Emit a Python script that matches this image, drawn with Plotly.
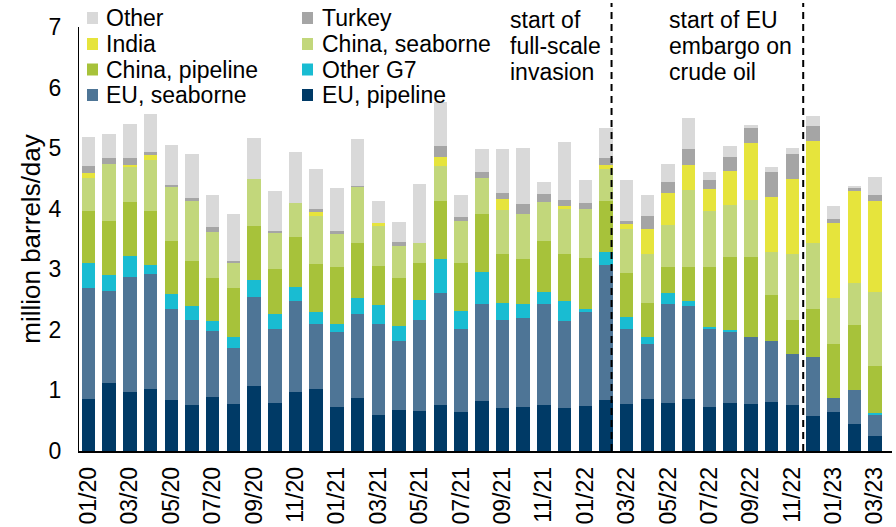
import plotly.graph_objects as go

months = ["01/20","02/20","03/20","04/20","05/20","06/20","07/20","08/20","09/20","10/20","11/20","12/20",
          "01/21","02/21","03/21","04/21","05/21","06/21","07/21","08/21","09/21","10/21","11/21","12/21",
          "01/22","02/22","03/22","04/22","05/22","06/22","07/22","08/22","09/22","10/22","11/22","12/22",
          "01/23","02/23","03/23"]

eu_pipeline = [0.86,1.12,0.98,1.02,0.84,0.76,0.89,0.77,1.07,0.80,0.97,1.02,
               0.73,0.87,0.59,0.67,0.66,0.76,0.65,0.83,0.71,0.73,0.76,0.71,
               0.74,0.84,0.77,0.86,0.80,0.86,0.73,0.80,0.77,0.81,0.76,0.58,
               0.65,0.45,0.24]
eu_seaborne = [1.83,1.52,1.90,1.91,1.50,1.40,1.09,0.93,1.48,1.21,1.51,1.07,
               1.23,1.40,1.51,1.14,1.51,1.85,1.36,1.60,1.46,1.47,1.66,1.44,
               1.56,2.23,1.24,0.90,1.62,1.53,1.30,1.16,1.12,1.01,0.84,0.97,
               0.23,0.55,0.37]
other_g7 = [0.41,0.26,0.34,0.14,0.26,0.24,0.16,0.18,0.28,0.26,0.22,0.21,
            0.14,0.26,0.31,0.25,0.33,0.56,0.30,0.52,0.28,0.22,0.21,0.32,
            0.05,0.22,0.20,0.13,0.19,0.08,0.02,0.04,0.00,0.00,0.00,0.00,
            0.00,0.00,0.02]
china_pipeline = [0.87,0.89,0.89,0.89,0.87,0.73,0.71,0.81,0.88,0.73,0.83,0.79,
                  0.94,0.90,0.65,0.80,0.61,0.95,0.80,0.96,0.81,0.75,0.83,0.78,
                  0.83,0.83,0.73,0.56,0.43,0.56,0.98,1.20,1.31,0.75,0.56,0.79,
                  0.89,1.08,0.78]
china_seaborne = [0.54,0.95,0.58,0.84,0.89,1.01,0.76,0.41,0.78,0.61,0.56,0.79,
                  0.54,0.93,0.65,0.53,0.33,0.58,0.68,0.60,0.72,0.75,0.65,0.75,
                  0.82,0.53,0.73,0.80,0.69,1.28,0.93,0.86,0.94,0.71,1.10,1.10,
                  0.75,0.70,1.21]
india = [0.08,0.00,0.04,0.08,0.00,0.00,0.00,0.00,0.00,0.00,0.00,0.06,
         0.00,0.00,0.06,0.00,0.00,0.16,0.00,0.00,0.18,0.00,0.00,0.04,
         0.00,0.07,0.08,0.41,0.53,0.41,0.37,0.56,0.94,0.91,1.23,1.67,
         1.25,1.51,1.51]
turkey = [0.12,0.09,0.10,0.05,0.03,0.03,0.08,0.04,0.00,0.03,0.00,0.06,
          0.05,0.02,0.00,0.06,0.00,0.18,0.07,0.09,0.10,0.15,0.13,0.11,
          0.09,0.11,0.05,0.22,0.18,0.27,0.14,0.24,0.26,0.42,0.41,0.25,
          0.06,0.05,0.10]
other = [0.48,0.40,0.57,0.64,0.67,0.73,0.53,0.78,0.67,0.65,0.85,0.66,
         0.71,0.77,0.36,0.33,0.97,0.72,0.37,0.39,0.73,0.93,0.20,0.95,
         0.38,0.51,0.67,0.35,0.30,0.50,0.14,0.18,0.05,0.08,0.11,0.17,
         0.22,0.04,0.30]

series_names = ["EU, pipeline","EU, seaborne","Other G7","China, pipeline",
                "China, seaborne","India","Turkey","Other"]
series_values = [eu_pipeline, eu_seaborne, other_g7, china_pipeline,
                 china_seaborne, india, turkey, other]
series_colors = ["#003a66","#4e7596","#19bcd2","#a7c23a",
                 "#c2d77b","#e6e43c","#a5a5a5","#d9d9d9"]

events = [("start of", "full-scale", "invasion"), ("start of EU", "embargo on", "crude oil")]
event_positions = [25.27, 34.53]

FONT = "Liberation Sans, Arial, sans-serif"
W, H = 896, 527
ML, MR, MT, MB = 79, 4, 27, 76
PW, PH = W - ML - MR, H - MT - MB

def px(xp):
    return (xp - ML) / PW

def py(yp):
    return (H - MB - yp) / PH

x = list(range(len(months)))

fig = go.Figure()
for name, vals, col in zip(series_names, series_values, series_colors):
    fig.add_trace(go.Bar(x=x, y=vals, name=name, marker=dict(color=col, line=dict(width=0)),
                         showlegend=False))

shapes = []
annotations = []

# event lines
for xe in event_positions:
    shapes.append(dict(type="line", xref="x", yref="paper", x0=xe, x1=xe, y0=0, y1=py(3),
                       line=dict(color="black", width=2, dash="7px,5px")))

# event text
text_left = [508, 667]
for lines, xl in zip(events, text_left):
    for i, t in enumerate(lines):
        annotations.append(dict(text=t, xref="paper", yref="paper", x=px(xl), y=py(20 + 26 * i),
                                xanchor="left", yanchor="middle", showarrow=False,
                                font=dict(family=FONT, size=23, color="black")))

# legend (two columns, reversed stack order)
legend_order = list(range(len(series_names)))[::-1]
col_sq = [87, 302]
col_tx = [104, 320]
row_y = [18, 44, 69.5, 95]
for k, idx in enumerate(legend_order):
    r, c = divmod(k, 2)
    yc = row_y[r]
    shapes.append(dict(type="rect", xref="paper", yref="paper",
                       x0=px(col_sq[c]), x1=px(col_sq[c] + 11),
                       y0=py(yc - 6), y1=py(yc + 6),
                       fillcolor=series_colors[idx], line=dict(width=0)))
    annotations.append(dict(text=series_names[idx], xref="paper", yref="paper",
                            x=px(col_tx[c]), y=py(yc), xanchor="left", yanchor="middle",
                            showarrow=False, font=dict(family=FONT, size=23, color="black")))

fig.update_layout(
    width=W, height=H,
    margin=dict(l=ML, r=MR, t=MT, b=MB, autoexpand=False),
    barmode="stack", bargap=0.35,
    plot_bgcolor="white", paper_bgcolor="white",
    font=dict(family=FONT, size=23, color="black"),
    shapes=shapes, annotations=annotations,
    xaxis=dict(range=[-0.46, 38.82], tickvals=x[::2], ticktext=months[::2], tickangle=-90,
               showline=True, linecolor="black", linewidth=1.5, showgrid=False, zeroline=False,
               ticks="", ticklabelstandoff=5, tickfont=dict(size=23), automargin=False),
    yaxis=dict(range=[0, 7], tickvals=list(range(8)), showline=True, linecolor="black",
               linewidth=1, showgrid=False, zeroline=False, ticks="", ticklabelstandoff=12,
               tickfont=dict(size=23), automargin=False,
               title=dict(text="million barrels/day", font=dict(size=26), standoff=0)),
)

fig.write_html("out.html", config={"displayModeBar": False},
               post_script="document.body.style.margin='0px';")
